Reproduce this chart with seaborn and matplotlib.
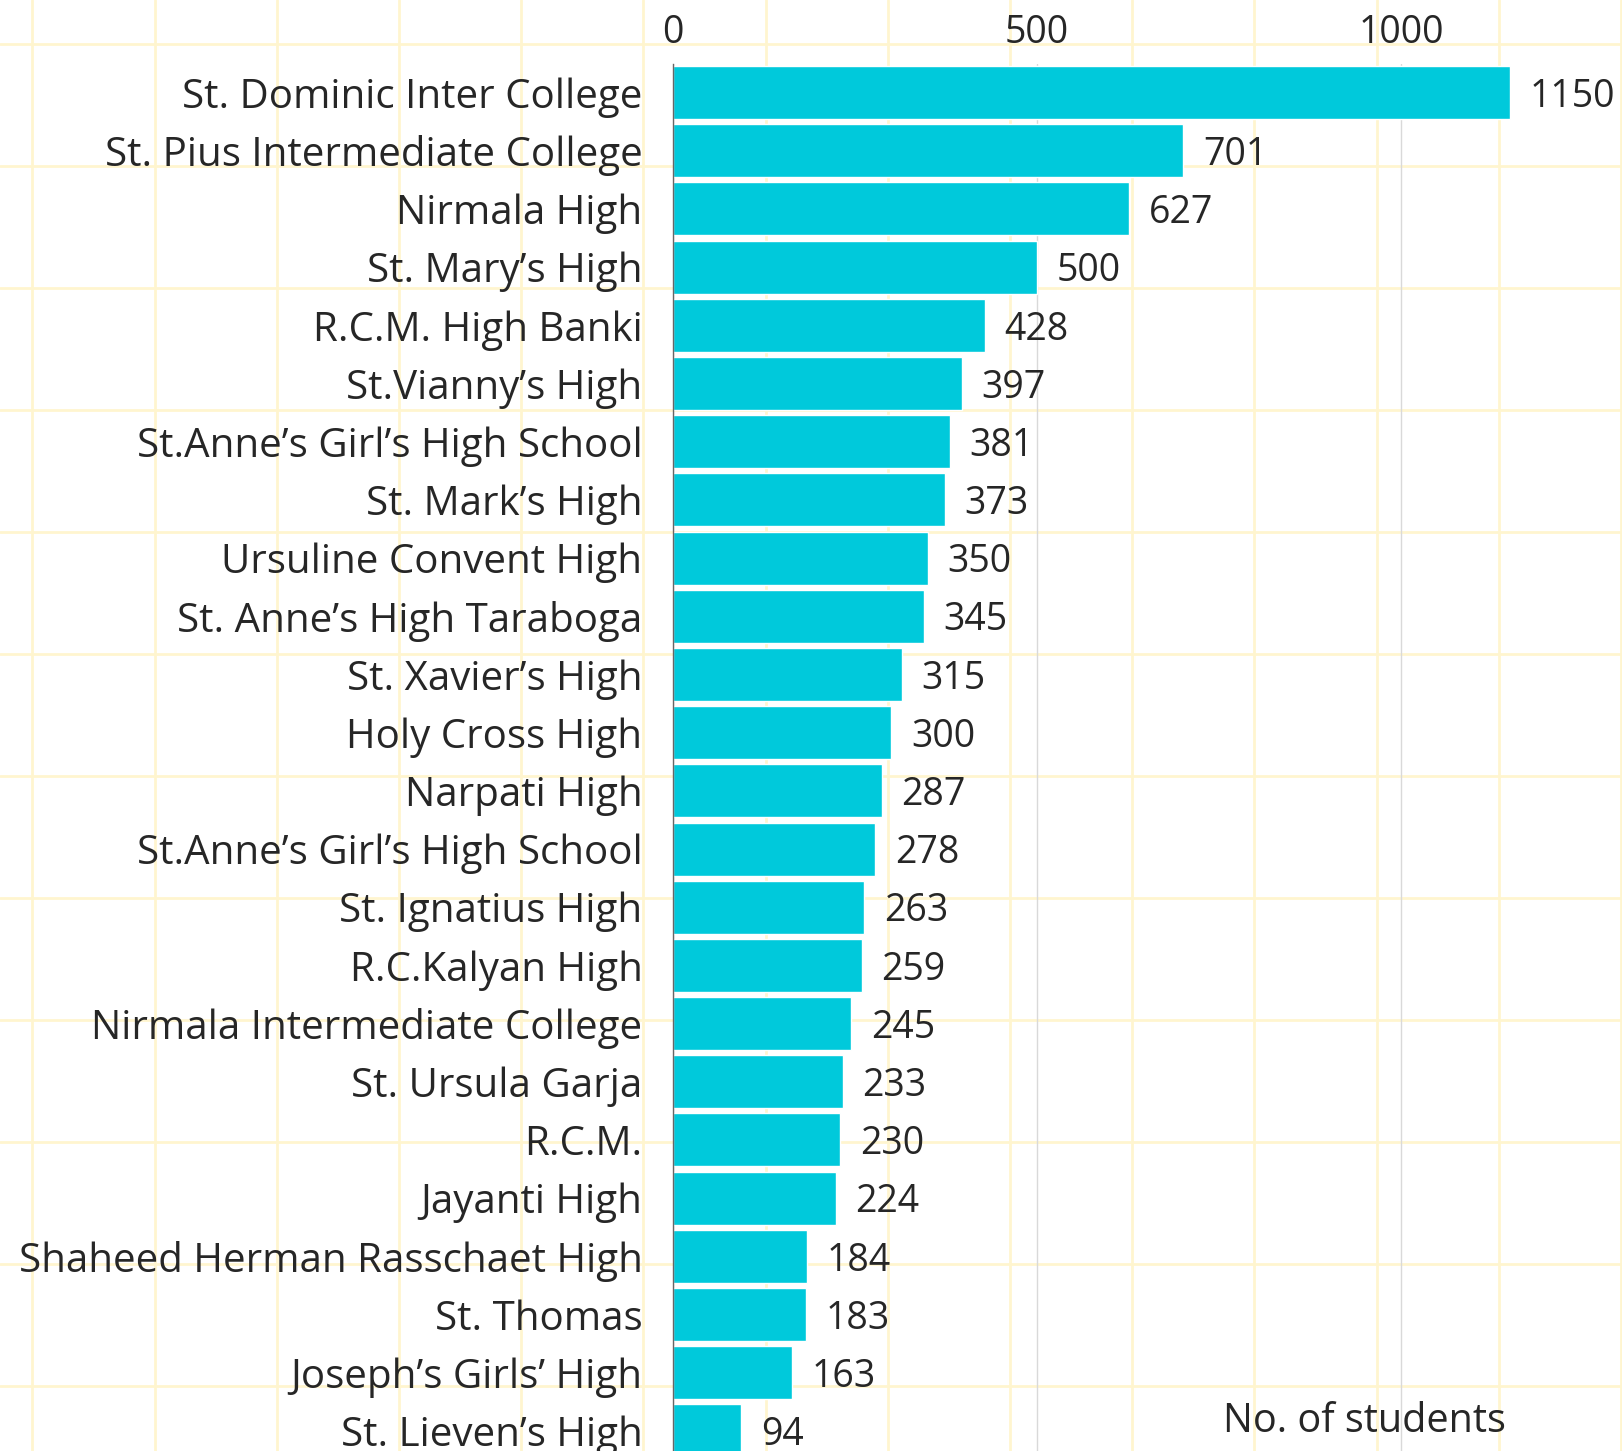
import matplotlib
matplotlib.use('Agg')
import matplotlib.pyplot as plt
import seaborn as sns
import pandas as pd

schools = [
    "St. Dominic Inter College",
    "St. Pius Intermediate College",
    "Nirmala High",
    "St. Mary\u2019s High",
    "R.C.M. High Banki",
    "St.Vianny\u2019s High",
    "St.Anne\u2019s Girl\u2019s High School",
    "St. Mark\u2019s High",
    "Ursuline Convent High",
    "St. Anne\u2019s High Taraboga",
    "St. Xavier\u2019s High",
    "Holy Cross High",
    "Narpati High",
    "St.Anne\u2019s Girl\u2019s High School",
    "St. Ignatius High",
    "R.C.Kalyan High",
    "Nirmala Intermediate College",
    "St. Ursula Garja",
    "R.C.M.",
    "Jayanti High",
    "Shaheed Herman Rasschaet High",
    "St. Thomas",
    "Joseph\u2019s Girls\u2019 High",
    "St. Lieven\u2019s High",
]
students = [1150, 701, 627, 500, 428, 397, 381, 373, 350, 345, 315, 300, 287,
            278, 263, 259, 245, 233, 230, 224, 184, 183, 163, 94]
x_ticks = [0, 500, 1000]
x_title = "No. of students"

sns.set_theme(style='white')
plt.rcParams['font.family'] = ['Open Sans', 'DejaVu Sans']
plt.rcParams['font.weight'] = 500

W, H = 1622, 1451
fig = plt.figure(figsize=(W / 100, H / 100), dpi=100)
fig.patch.set_facecolor('white')

# background decorative grid
bg = fig.add_axes([0, 0, 1, 1], zorder=0)
bg.set_xlim(0, W)
bg.set_ylim(H, 0)
bg.axis('off')
grid_col = '#FFF5CF'
for k in range(14):
    bg.axvline(1621 - k * 122.2, color=grid_col, lw=2)
for k in range(12):
    bg.axhline(43.7 + k * 122.0, color=grid_col, lw=2)

left, top, bottom = 673, 63.5, 1460
ax = fig.add_axes([left / W, (H - bottom) / H, (W - left) / W, (bottom - top) / H], zorder=1)
ax.patch.set_alpha(0)

df = pd.DataFrame({"rank": list(range(len(schools))), "students": students})
sns.barplot(data=df, x="students", y="rank", orient='h', color='#00C9DB',
            saturation=1, width=0.91, ax=ax)

ax.set_ylim(len(schools) - 0.5, -0.5)
ax.set_xlim(0, (W - left) / 0.728)
ax.set_yticks(range(len(schools)))
ax.set_yticklabels(schools, fontsize=29)
ax.set_ylabel('')
ax.set_xlabel('')
ax.xaxis.tick_top()
ax.set_xticks(x_ticks)
ax.set_xticklabels([str(t) for t in x_ticks], fontsize=27)
ax.tick_params(axis='x', length=0, pad=8)
ax.tick_params(axis='y', length=0, pad=22)
ax.grid(axis='x', color='#D9D9D9', lw=1)
ax.set_axisbelow(True)
for s in ['top', 'right', 'bottom']:
    ax.spines[s].set_visible(False)
ax.spines['left'].set_color('#666666')
ax.spines['left'].set_linewidth(1)

labels = ax.bar_label(ax.containers[0], padding=14, fontsize=27)
for t in labels:
    t.xyann = (14, -3)

fig.text(1364 / W, 1 - 1422 / H, x_title, ha='center', va='center', fontsize=28.5)

fig.savefig('out.png', dpi=100)
